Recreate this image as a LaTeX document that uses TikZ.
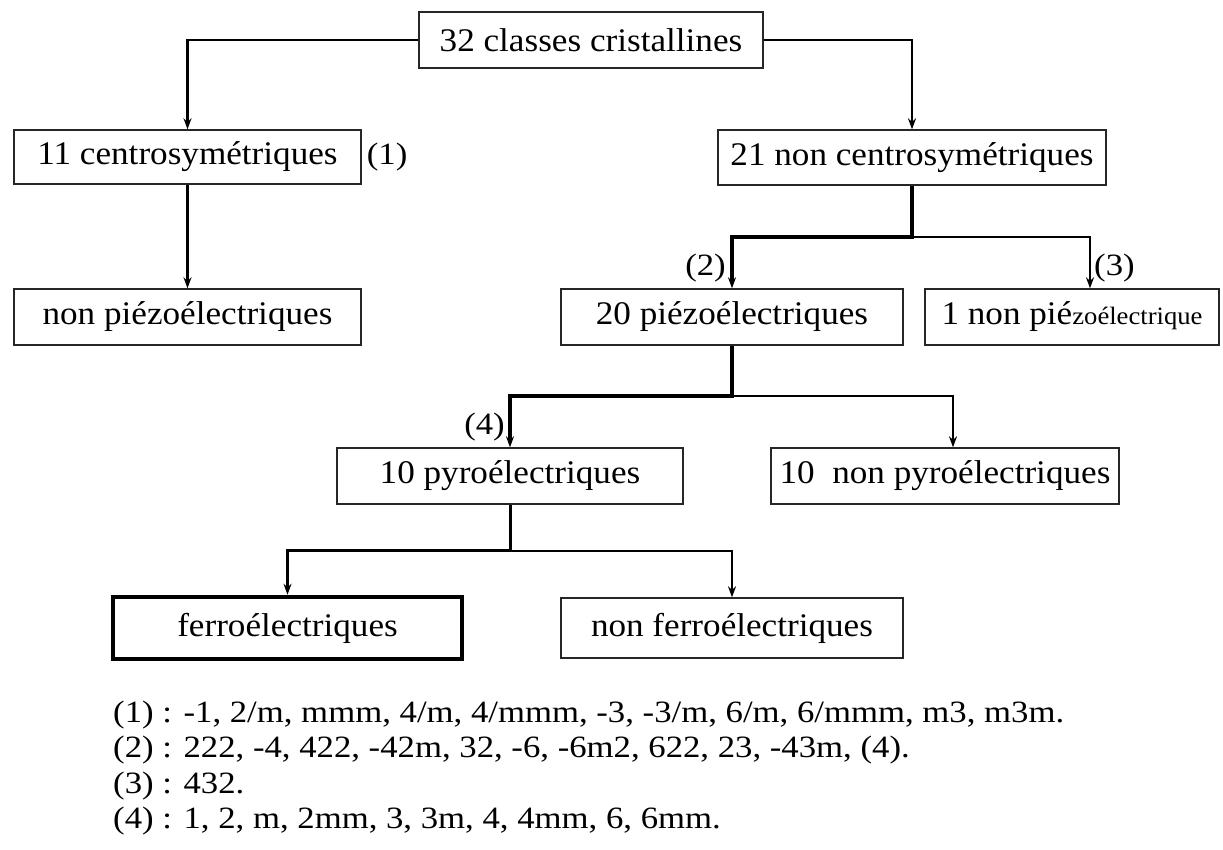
\documentclass[tikz,border=0pt]{standalone}
\usepackage{fontspec}
\setmainfont{Liberation Serif}[FakeStretch=1.12]
\newfontfamily\boxfont{Liberation Serif}[FakeStretch=1.065]
\usetikzlibrary{positioning,arrows.meta}

\begin{document}
\begin{tikzpicture}[x=1pt, y=-1pt, >={Stealth[length=11pt,width=8pt]},
  box/.style={draw=black!85, line width=1.4pt, minimum height=56pt, inner sep=0pt,
              font=\boxfont\fontsize{33}{38}\selectfont},
  lbl/.style={inner sep=0pt, font=\fontsize{31}{36}\selectfont},
  link/.style={line width=2.2pt},
  mid/.style={line width=3pt},
  heavy/.style={line width=4pt}]
  \useasboundingbox (0,0) rectangle (1223,849);
  % boxes
  \node[box, minimum width=344pt] (cls) at (591,40) {32 classes cristallines};
  \node[box, minimum width=347pt, minimum height=54pt] (cen) at (187.5,157) {11 centrosymétriques};
  \node[box, minimum width=388pt, minimum height=55pt] (ncen) at (912,157.5) {21 non centrosymétriques};
  \node[box, minimum width=347pt] (npz) at (187.5,317) {non piézoélectriques};
  \node[box, minimum width=342pt] (pz) at (732,317) {20 piézoélectriques};
  \node[box, minimum width=294pt] (npz1) at (1072,317)
       {1 non pié{\fontsize{25}{30}\selectfont zoélectrique}};
  \node[box, minimum width=346pt] (pyro) at (510,476) {10 pyroélectriques};
  \node[box, minimum width=348pt] (npyro) at (945,476) {10\ \ non pyroélectriques};
  \node[box, minimum width=349pt, minimum height=62pt, line width=4.5pt, draw=black] (ferro) at (287.5,628) {ferroélectriques};
  \node[box, minimum width=342pt, minimum height=60pt] (nferro) at (732,628) {non ferroélectriques};
  % labels
  \node[lbl, right=5pt of cen.east] (r1) {(1)};
  \node[lbl, anchor=south east] (r2) at ([xshift=-6pt,yshift=6pt]pz.north) {(2)};
  \node[lbl, anchor=south west] (r3) at ([xshift=22pt,yshift=6pt]npz1.north) {(3)};
  \node[lbl, anchor=south east] (r4) at ([xshift=-5pt,yshift=6pt]pyro.north) {(4)};
  % connectors
  \draw[link,->] (cls.west) -| (cen.north);
  \draw[link,->] (cls.east) -| (ncen.north);
  \draw[link,->] (cen.south) -- (npz.north);
  \draw[heavy,->] (ncen.south) -- ++(0,51) coordinate (j1) -| (pz.north);
  \draw[link,->] (j1) -| ([xshift=18pt]npz1.north);
  \draw[heavy,->] (pz.south) -- ++(0,50) coordinate (j2) -| (pyro.north);
  \draw[link,->] (j2) -| ([xshift=8pt]npyro.north);
  \draw[mid,->] (pyro.south) -- ++(0,46) coordinate (j3) -| (ferro.north);
  \draw[link,->] (j3) -| (nferro.north);
  % notes
  \node[lbl, anchor=base west] (n1) at (113,722) {(1) : -1, 2/m, mmm, 4/m, 4/mmm, -3, -3/m, 6/m, 6/mmm, m3, m3m.};
  \node[lbl, anchor=base west] (n2) at (113,757) {(2) : 222, -4, 422, -42m, 32, -6, -6m2, 622, 23, -43m, (4).};
  \node[lbl, anchor=base west] (n3) at (113,793) {(3) : 432.};
  \node[lbl, anchor=base west] (n4) at (113,828) {(4) : 1, 2, m, 2mm, 3, 3m, 4, 4mm, 6, 6mm.};
\end{tikzpicture}
\end{document}
